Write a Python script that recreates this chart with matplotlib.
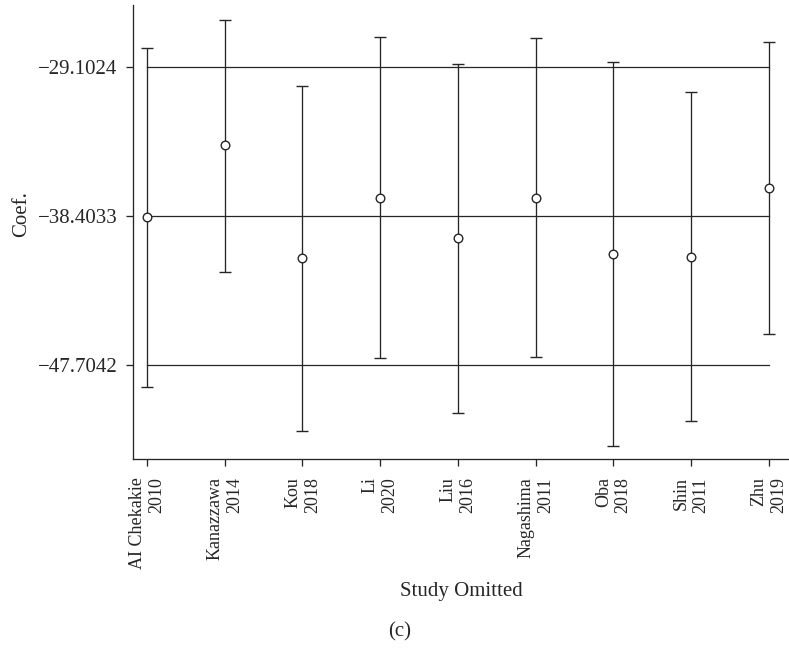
import matplotlib
matplotlib.use("Agg")
import matplotlib.pyplot as plt

plt.rcParams["font.family"] = ["Liberation Serif", "DejaVu Serif"]

studies = ["AI Chekakie\n2010", "Kanazzawa\n2014", "Kou\n2018", "Li\n2020", "Liu\n2016",
           "Nagashima\n2011", "Oba\n2018", "Shin\n2011", "Zhu\n2019"]
coef = [-38.48, -33.97, -41.03, -37.30, -39.80, -37.30, -40.78, -40.94, -36.64]
ci_low = [-49.10, -41.88, -51.81, -47.27, -50.68, -47.19, -52.76, -51.18, -45.75]
ci_high = [-27.92, -26.19, -30.27, -27.21, -28.93, -27.31, -28.79, -30.66, -27.54]
ref_lines = [-29.1024, -38.4033, -47.7042]
ref_labels = ["\u221229.1024", "\u221238.4033", "\u221247.7042"]

ink = "#262626"
fig = plt.figure(figsize=(7.89, 6.48), dpi=100)
ax = fig.add_axes([0.1686, 0.2917, 0.8314, 0.7006])

x = list(range(len(studies)))
for yv in ref_lines:
    ax.plot([x[0], x[-1]], [yv, yv], color=ink, lw=0.9, zorder=1)

err_lo = [c - l for c, l in zip(coef, ci_low)]
err_hi = [h - c for c, h in zip(coef, ci_high)]
ax.errorbar(x, coef, yerr=[err_lo, err_hi], fmt="o", mfc="white", mec=ink, ms=6.2,
            mew=1.0, ecolor=ink, elinewidth=0.95, capsize=4.5, capthick=0.95, zorder=3)

ax.set_xlim(-0.18, 8.26)
ax.set_ylim(-53.57, -25.23)
ax.set_yticks(ref_lines)
ax.set_yticklabels(ref_labels)
ax.set_xticks(x)
ax.set_xticklabels(studies, rotation=90, multialignment="right", va="top")

for side in ("top", "right"):
    ax.spines[side].set_visible(False)
for side in ("left", "bottom"):
    ax.spines[side].set_color(ink)
    ax.spines[side].set_linewidth(0.95)
ax.tick_params(axis="both", direction="out", length=5, width=0.95, color=ink,
               labelcolor=ink)
ax.tick_params(axis="x", labelsize=13, pad=8)
ax.tick_params(axis="y", labelsize=15, pad=6)

ax.set_ylabel("Coef.", fontsize=15, color=ink)
ax.yaxis.set_label_coords(-0.156, 0.54)
ax.set_xlabel("Study Omitted", fontsize=15, color=ink)
ax.xaxis.set_label_coords(0.5, -0.27)

fig.text(0.507, 0.010, "(c)", ha="center", va="bottom", fontsize=15, color=ink)

fig.savefig("out.png", dpi=100)
